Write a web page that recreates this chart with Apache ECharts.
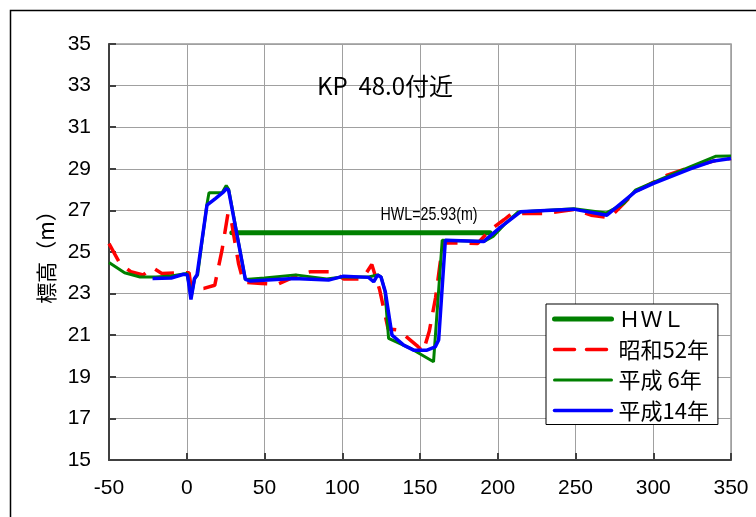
<!DOCTYPE html>
<html>
<head>
<meta charset="utf-8">
<script src="https://cdn.jsdelivr.net/npm/echarts@6/dist/echarts.min.js"></script>
<style>
html,body{margin:0;padding:0;background:#fff;}
#c{width:756px;height:517px;}
</style>
</head>
<body>
<div id="c"></div>
<script>
// Axis ticks
var xTicks = [-50, 0, 50, 100, 150, 200, 250, 300, 350];
var yTicks = [15, 17, 19, 21, 23, 25, 27, 29, 31, 33, 35];

// Series names
var seriesNames = ['ＨＷＬ', '昭和52年', '平成 6年', '平成14年'];

// HWL
var hwlX = [29, 195];
var hwlY = [25.93, 25.93];

// 昭和52年
var s52X = [-50, -43, -36, -28, -22, -16, -5, 1.5, 3, 11, 18, 22.7, 26.5, 28, 33.3, 36.5, 48, 58, 65.5, 71, 79.5, 94, 101, 113, 119, 124, 129.5, 136, 148, 152, 156, 160, 163, 165.5, 187, 191, 195, 204, 209, 230, 250, 260, 272, 288.5, 309, 325, 340, 350];
var s52Y = [25.4, 24.45, 24.05, 23.9, 24.25, 23.97, 24.0, 24.0, 23.2, 23.25, 23.4, 25.1, 26.85, 26.8, 24.45, 23.55, 23.49, 23.44, 23.68, 23.9, 24.05, 24.05, 23.7, 23.7, 24.4, 23.2, 21.3, 21.25, 20.5, 20.2, 21.2, 22.8, 24.5, 25.45, 25.41, 25.73, 26.05, 26.55, 26.85, 26.85, 27.05, 26.77, 26.65, 27.9, 28.7, 29.1, 29.4, 29.5];

// 平成 6年
var h6X = [-50, -40, -30, -20, -10, 0, 3, 5, 7, 13, 14.3, 22.7, 25.4, 27, 37.7, 50, 70, 90, 100, 117, 122.7, 125, 127.5, 129.8, 143.8, 158.7, 164.3, 190.9, 197, 204, 213, 230, 249, 270, 281, 288.5, 300, 324, 340, 350];
var h6Y = [24.5, 24.0, 23.8, 23.8, 23.85, 23.97, 22.9, 23.7, 23.9, 27.3, 27.85, 27.85, 28.2, 28.0, 23.68, 23.75, 23.9, 23.7, 23.8, 23.8, 23.9, 23.8, 23.1, 20.85, 20.37, 19.72, 25.57, 25.5, 25.75, 26.3, 26.92, 27.0, 27.08, 26.88, 27.33, 27.97, 28.35, 29.1, 29.6, 29.62];

// 平成14年
var h14X = [-22, -10, -2, 0.5, 2.7, 5, 6.6, 13, 18.4, 23.7, 25.4, 26.9, 37.7, 41, 68.7, 91.2, 100.9, 116.9, 120.2, 122.7, 124.9, 127.7, 132, 139.5, 145.9, 154.5, 159.8, 162, 166.3, 190.9, 201.6, 214.6, 227.4, 248.8, 253, 270.2, 288.5, 300.2, 323.8, 338.8, 350];
var h14Y = [23.73, 23.75, 23.93, 23.9, 22.72, 23.73, 23.9, 27.25, 27.57, 27.89, 28.05, 27.97, 23.68, 23.6, 23.73, 23.65, 23.84, 23.78, 23.57, 23.89, 23.8, 23.09, 21.0, 20.52, 20.28, 20.28, 20.44, 20.77, 25.57, 25.5, 26.18, 26.93, 26.98, 27.06, 27.0, 26.77, 27.9, 28.3, 29.0, 29.38, 29.5];

function zip(xs, ys) { return xs.map(function (x, i) { return [x, ys[i]]; }); }

var chart = echarts.init(document.getElementById('c'), null, {renderer: 'canvas'});
var tickFont = 'Liberation Sans';
var cjkFont = '"Noto Sans CJK JP"';

var option = {
  animation: false,
  backgroundColor: '#fff',
  grid: {left: 109, right: 25, top: 44, bottom: 57, show: true, borderColor: '#9a9a9a', borderWidth: 1.5, containLabel: false},
  xAxis: {
    type: 'value', min: xTicks[0], max: xTicks[xTicks.length - 1], interval: 50,
    axisLine: {show: true, onZero: false, lineStyle: {color: '#404040', width: 2}},
    axisTick: {show: true, inside: true, length: 7, lineStyle: {color: '#404040', width: 2}},
    splitLine: {show: true, lineStyle: {color: '#a0a0a0', width: 1}},
    axisLabel: {fontSize: 21, fontFamily: tickFont, color: '#000', margin: 18}
  },
  yAxis: {
    type: 'value', min: yTicks[0], max: yTicks[yTicks.length - 1], interval: 2,
    name: '標高（m）', nameLocation: 'middle', nameGap: 50, nameRotate: 90,
    nameTextStyle: {fontSize: 21, fontFamily: cjkFont, color: '#000'},
    axisLine: {show: true, onZero: false, lineStyle: {color: '#404040', width: 2}},
    axisTick: {show: true, inside: true, length: 7, lineStyle: {color: '#404040', width: 2}},
    splitLine: {show: true, lineStyle: {color: '#a0a0a0', width: 1}},
    axisLabel: {fontSize: 21, fontFamily: tickFont, color: '#000', margin: 18}
  },
  legend: {
    orient: 'vertical', left: 546, top: 304,
    padding: [4, 9, 3, 6], itemGap: 8.5, itemWidth: 57, itemHeight: 14,
    backgroundColor: '#fff', borderColor: '#000', borderWidth: 1, borderRadius: 0,
    itemStyle: {opacity: 0},
    lineStyle: {width: 'inherit', type: 'inherit', cap: 'round'},
    textStyle: {fontSize: 22, fontFamily: cjkFont, color: '#000', padding: [0, 0, 0, 2]},
    data: seriesNames
  },
  graphic: [
    {type: 'rect', silent: true, z: 100, shape: {x: 10.5, y: 10.5, width: 900, height: 700}, style: {fill: 'none', stroke: '#000', lineWidth: 1.5}},
    {type: 'text', silent: true, z: 100, x: 385, y: 86, style: {text: 'KP  48.0付近', fontSize: 24, fontFamily: cjkFont, fill: '#000', align: 'center', verticalAlign: 'middle', textAlign: 'center', textVerticalAlign: 'middle'}},
    {type: 'text', silent: true, z: 100, x: 429, y: 215, scaleX: 0.75, style: {text: 'HWL=25.93(m)', fontSize: 19, fontFamily: tickFont, fill: '#000', align: 'center', verticalAlign: 'middle', textAlign: 'center', textVerticalAlign: 'middle'}}
  ],
  series: [
    {name: seriesNames[0], type: 'line', data: zip(hwlX, hwlY), symbol: 'none', lineStyle: {color: '#008000', width: 5, cap: 'round'}, itemStyle: {color: '#008000'}, z: 2},
    {name: seriesNames[1], type: 'line', data: zip(s52X, s52Y), symbol: 'none', lineStyle: {color: '#ff0000', width: 3.5, type: [20, 12]}, itemStyle: {color: '#ff0000'}, z: 3},
    {name: seriesNames[2], type: 'line', data: zip(h6X, h6Y), symbol: 'none', lineStyle: {color: '#008000', width: 3}, itemStyle: {color: '#008000'}, z: 4},
    {name: seriesNames[3], type: 'line', data: zip(h14X, h14Y), symbol: 'none', lineStyle: {color: '#0000ff', width: 3.5}, itemStyle: {color: '#0000ff'}, z: 5}
  ]
};
chart.setOption(option);
</script>
</body>
</html>
